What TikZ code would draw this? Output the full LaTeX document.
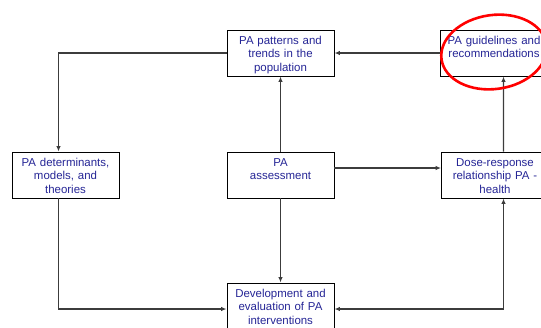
\documentclass[tikz,border=0pt]{standalone}
\usepackage{fontspec}
\setmainfont{Liberation Sans}
\usetikzlibrary{arrows.meta,positioning}
\definecolor{labelblue}{RGB}{38,38,150}
\definecolor{linegray}{RGB}{60,60,60}
\begin{document}
\begin{tikzpicture}[x=1bp,y=-1bp,
  box/.style={draw=black, line width=0.9bp, fill=white,
    minimum width=107bp, minimum height=46bp, inner sep=2bp,
    text width=103bp, align=center, text height=12bp, text depth=30bp,
    font=\fontsize{11.5}{13.8}\selectfont, text=labelblue},
  conn/.style={draw=linegray, line width=1.1bp, -{Latex[length=5.5bp,width=4.5bp]}},
  both/.style={draw=linegray, line width=1.1bp, {Latex[length=5.5bp,width=4.5bp]}-{Latex[length=5.5bp,width=4.5bp]}}]
\useasboundingbox (0,0) rectangle (541,327);

% boxes
\node[box] (patt)  at (280.5,53)  {PA patterns and\\trends in the\\population};
\node[box] (guide) at (494,53)    {PA guidelines and\\recommendations};
\node[box] (det)   at (65.5,175)  {PA determinants,\\models, and\\theories};
\node[box] (ass)   at (280.5,175) {PA\\assessment};
\node[box] (dose)  at (495,175)   {Dose-response\\relationship PA -\\health};
\node[box] (dev)   at (280.5,306) {Development and\\evaluation of PA\\interventions};

% connectors
\draw[conn] (guide.west) -- (patt.east);
\draw[conn] (patt.west) -| ([xshift=-7bp]det.north);
\draw[conn] (ass.north) -- (patt.south);
\draw[conn] (ass.south) -- (dev.north);
\draw[conn] ([yshift=7bp]ass.east) -- ([yshift=7bp]dose.west);
\draw[conn] ([xshift=8.5bp]dose.north) -- ([xshift=9.5bp]guide.south);
\draw[conn] ([xshift=-7bp]det.south) |- ([yshift=-3bp]dev.west);
\draw[both] ([xshift=8.5bp]dose.south) |- ([yshift=-3bp]dev.east);

% highlight ring
\draw[red, line width=2.6bp, rotate around={8:(494,52)}] (494,52) ellipse [x radius=53, y radius=37];
\end{tikzpicture}
\end{document}
